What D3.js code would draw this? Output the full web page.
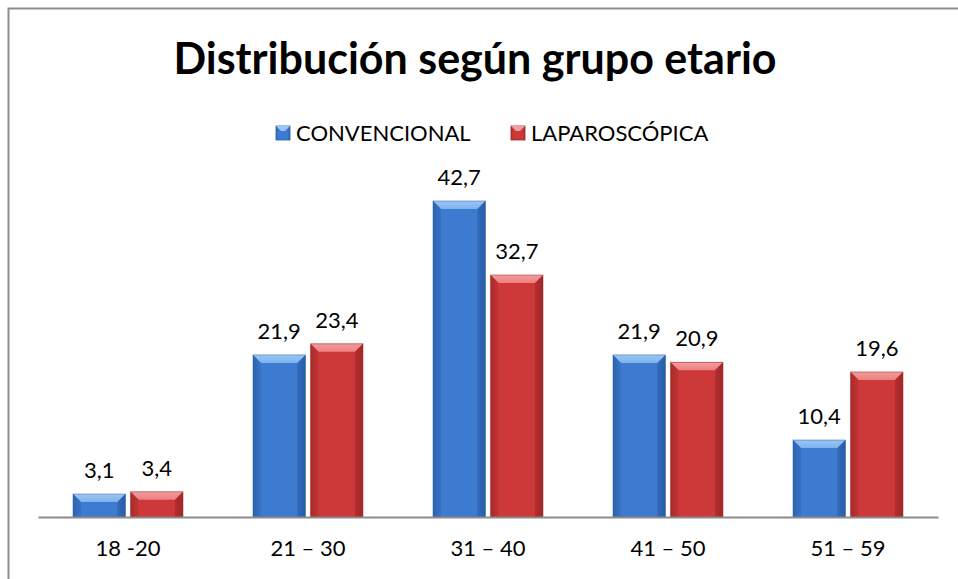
<!DOCTYPE html>
<html><head><meta charset="utf-8">
<script src="https://cdn.jsdelivr.net/npm/d3@7"></script>
<style>body{margin:0;background:#fff}svg{display:block}</style>
</head><body>
<script>
const categories = ["18 -20", "21 – 30", "31 – 40", "41 – 50", "51 – 59"];
const convencional = [3.1, 21.9, 42.7, 21.9, 10.4];
const laparoscopica = [3.4, 23.4, 32.7, 20.9, 19.6];
const seriesNames = ["CONVENCIONAL", "LAPAROSCÓPICA"];
const labelFmt = v => String(v).replace(".", ",");

const W = 958, H = 579;
const svg = d3.select("body").append("svg").attr("width", W).attr("height", H);
const defs = svg.append("defs");
const palettes = [
  {id: "blue", light: "#7fb2ee", main: "#3d7bd1", dark: "#2a5ea8", top: "#9cc6f4", side: "#2f69b8"},
  {id: "red", light: "#ee8080", main: "#cd3838", dark: "#a02828", top: "#f29c9c", side: "#b53030"}
];
palettes.forEach(p => {
  const g = defs.append("linearGradient").attr("id", "g" + p.id).attr("x1", 0).attr("x2", 1).attr("y1", 0).attr("y2", 0);
  g.append("stop").attr("offset", 0).attr("stop-color", p.dark);
  g.append("stop").attr("offset", 0.15).attr("stop-color", p.main);
  g.append("stop").attr("offset", 0.85).attr("stop-color", p.main);
  g.append("stop").attr("offset", 1).attr("stop-color", p.dark);
  const t = defs.append("linearGradient").attr("id", "t" + p.id).attr("x1", 0).attr("x2", 0).attr("y1", 0).attr("y2", 1);
  t.append("stop").attr("offset", 0).attr("stop-color", p.top);
  t.append("stop").attr("offset", 1).attr("stop-color", p.light);
});

// frame
svg.append("path").attr("d", `M8.5,${H} L8.5,8.5 L${W},8.5`).attr("fill", "none").attr("stroke", "#8c8c8c").attr("stroke-width", 2);

const x0 = d3.scaleBand().domain(categories).range([38, 938]);
const x1 = d3.scaleBand().domain(seriesNames).range([x0.bandwidth()/2 - 55, x0.bandwidth()/2 + 55]).paddingInner(0.09);
const y = d3.scaleLinear().domain([0, 42.7]).range([517, 201]);

const data = categories.map((c, i) => ({cat: c, vals: [convencional[i], laparoscopica[i]]}));

const bev = 8;
const font = "Lato, 'Open Sans', sans-serif";
data.forEach(d => {
  d.vals.forEach((v, s) => {
    const p = palettes[s];
    const bx = x0(d.cat) + x1(seriesNames[s]);
    const bw = x1.bandwidth();
    const by = y(v), bh = y(0) - y(v);
    const g = svg.append("g");
    g.append("rect").attr("x", bx).attr("y", by).attr("width", bw).attr("height", bh).attr("fill", `url(#g${p.id})`);
    const b = Math.min(bev, bh / 2);
    g.append("path").attr("d", `M${bx},${by} L${bx+bw},${by} L${bx+bw-b},${by+b} L${bx+b},${by+b} Z`).attr("fill", `url(#t${p.id})`);
    g.append("path").attr("d", `M${bx},${by} L${bx+b},${by+b} L${bx+b},${by+bh} L${bx},${by+bh} Z`).attr("fill", p.side).attr("opacity", 0.5);
    g.append("path").attr("d", `M${bx+bw},${by} L${bx+bw-b},${by+b} L${bx+bw-b},${by+bh} L${bx+bw},${by+bh} Z`).attr("fill", p.dark).attr("opacity", 0.6);
    g.append("rect").attr("x", bx).attr("y", by).attr("width", bw).attr("height", bh).attr("fill", "none").attr("stroke", p.dark).attr("stroke-opacity", 0.5).attr("stroke-width", 1);
    svg.append("text").attr("x", bx + bw/2).attr("y", by - 16).attr("text-anchor", "middle")
      .attr("font-family", font).attr("font-size", 22).attr("fill", "#000").text(labelFmt(v));
  });
});

// axis
const xAxis = d3.axisBottom(x0).tickSize(0).tickPadding(23);
const ax = svg.append("g").attr("transform", `translate(0,${y(0)})`).call(xAxis);
ax.select(".domain").attr("stroke", "#8c8c8c").attr("stroke-width", 2);
ax.selectAll("text").attr("font-family", font).attr("font-size", 22).attr("fill", "#000");

// title
svg.append("text").attr("x", 475).attr("y", 74).attr("text-anchor", "middle")
  .attr("font-family", font).attr("font-weight", "bold").attr("font-size", 43).attr("fill", "#000")
  .text("Distribución según grupo etario");

// legend
const leg = svg.append("g").attr("transform", "translate(0,133)");
const legX = [276, 511];
seriesNames.forEach((n, s) => {
  const p = palettes[s];
  const lx = legX[s];
  leg.append("rect").attr("x", lx).attr("y", -7).attr("width", 14).attr("height", 14).attr("fill", `url(#g${p.id})`).attr("stroke", p.dark).attr("stroke-width", 0.8);
  leg.append("path").attr("d", `M${lx},${-7} L${lx+14},${-7} L${lx+9},${-2} L${lx+5},${-2} Z`).attr("fill", p.top);
  leg.append("text").attr("x", lx + 20).attr("y", 0).attr("dy", "0.36em")
    .attr("font-family", font).attr("font-size", 22).attr("fill", "#000").text(n);
});
</script>
</body></html>
